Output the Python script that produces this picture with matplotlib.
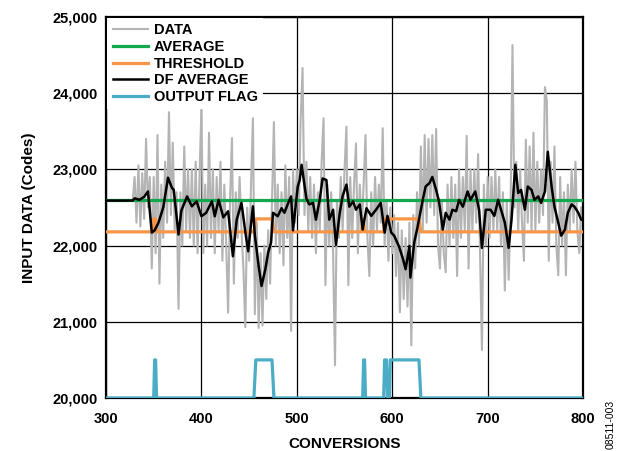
import numpy as np
import matplotlib.pyplot as plt
from matplotlib.ticker import FuncFormatter

plt.rcParams['font.family'] = ['Liberation Sans', 'DejaVu Sans']
plt.rcParams['font.weight'] = 'bold'

# raw ADC samples, one value every 2 conversions (300..798)
data_x = np.arange(300, 800, 2)
data_y = [
    22590, 22590, 22590, 22590, 22590, 22590, 22590, 22590, 22590, 22590,
    22590, 22590, 22590, 22590, 22590,
    22900, 22300, 23050, 22250, 22950, 22350, 23400, 22500, 22900, 21700,
    22900, 21900, 23450, 21500, 22800, 22100, 23100, 22300, 23750, 22400,
    23350, 22200, 22700, 21170, 22700, 22000, 23300, 22200, 23000, 22100,
    23000, 22000, 23100, 21900, 22900, 23780, 21900, 22800, 22000, 23480,
    22100, 23000, 21900, 22900, 22200, 23100, 21800, 22800, 22000, 21120,
    22600, 23410, 21500, 22700, 22100, 22900, 22200, 21700, 20930, 22500,
    21800, 22800, 23670, 21100, 22300, 20920, 21900, 20950, 22000, 21300,
    22200, 21500, 22600, 23620, 22000, 22800, 21900, 22700, 21740, 23050,
    22100, 22900, 20880, 23000, 22300, 23000, 22400, 23650, 24330, 22400,
    23100, 22200, 22900, 22100, 22800, 21900, 22700, 22200, 23100, 23670,
    21480, 22800, 22000, 22700, 21900, 20430, 22600, 22100, 22900, 22200,
    23000, 23560, 21480, 22900, 22100, 22800, 23340, 21900, 22800, 22200,
    22800, 23450, 22100, 21600, 22700, 22000, 22900, 22200, 22800, 22300,
    23540, 22000, 22600, 21800, 22500, 21900, 22400, 21600, 22300, 21125,
    22200, 21300, 22100, 21200, 22300, 20690, 22400, 21700, 22700, 22000,
    23300, 22200, 23450, 22300, 23400, 22500, 23450, 22400, 23530, 22000,
    21700, 22600, 21900, 21650, 22800, 22000, 22900, 22100, 22800, 21600,
    23000, 22100, 22900, 22200, 23440, 21700, 23000, 22200, 23000, 22300,
    23200, 21900, 20630, 22800, 22000, 22900, 22100, 22900, 22200, 23000,
    22200, 22900, 22000, 22700, 21410, 22600, 21550, 22500, 24630, 22500,
    23100, 22200, 23000, 22300, 21800, 23390, 22300, 23300, 22200, 23480,
    22200, 23100, 22300, 23000, 22400, 24080, 23900, 21800, 23100, 22300,
    23300, 22000, 21610, 22900, 22000, 22700, 21610, 22800, 22200, 23000,
    22300, 23100, 22200, 21900, 22500,
]

avg_x = [300, 800]
avg_y = [22600, 22600]

# threshold rises while the flag is set
thr_x = [300, 349, 350, 352, 353, 455, 457, 474, 476, 568, 569, 570, 571,
         591, 592, 628, 630, 800]
thr_y = [22180, 22180, 22350, 22350, 22180, 22180, 22350, 22350, 22180,
         22180, 22350, 22350, 22180, 22180, 22350, 22350, 22180, 22180]

df_x = [300, 328, 330, 335, 340, 344, 348, 351, 355, 360, 365, 369, 371,
        376, 379, 385, 390, 395, 400, 405, 411, 414, 418, 423, 428, 433,
        437, 442, 446, 449, 454, 456, 460, 463, 467, 470, 473, 475, 480,
        484, 487, 491, 494, 496, 501, 503, 505, 507, 510, 513, 517, 520,
        524, 527, 531, 534, 538, 541, 545, 548, 552, 555, 559, 562, 566,
        569, 573, 578, 583, 588, 592, 595, 599, 602, 607, 611, 614, 618,
        619, 623, 626, 632, 635, 639, 642, 646, 649, 653, 656, 660, 663,
        667, 670, 674, 679, 682, 687, 691, 694, 698, 703, 707, 711, 715,
        718, 722, 725, 729, 732, 735, 739, 742, 746, 749, 753, 756, 760,
        763, 767, 770, 774, 777, 781, 784, 788, 791, 795, 798, 800]
df_y = [22590, 22590, 22620, 22600, 22640, 22710, 22170, 22200, 22300,
        22500, 22890, 22760, 22730, 22145, 22460, 22645, 22515, 22580,
        22385, 22430, 22580, 22385, 22600, 22370, 22450, 21860, 22340,
        22560, 22180, 21925, 22515, 22135, 21730, 21470, 21690, 21910,
        22040, 22430, 22385, 22490, 22430, 22560, 22645, 22200, 22775,
        22860, 23060, 22880, 22620, 22540, 22560, 22340, 22600, 22880,
        22860, 22340, 22470, 22010, 22430, 22650, 22800, 22510, 22580,
        22470, 22540, 22210, 22490, 22390, 22470, 22560, 22170, 22390,
        22170, 22130, 21990, 21835, 21690, 21995, 21580, 22040, 22210,
        22600, 22775, 22820, 22900, 22730, 22580, 22210, 22430, 22340,
        22470, 22450, 22600, 22510, 22710, 22600, 22710, 22470, 21970,
        22470, 22470, 22390, 22600, 22430, 22300, 21970, 22340, 23060,
        22690, 22730, 22470, 22775, 22730, 22600, 22645, 22560, 22710,
        23230, 22775, 22510, 22300, 22130, 22210, 22430, 22540, 22510,
        22430, 22340, 22340]

flag_x = [300, 350, 351, 352, 353, 455, 457, 474, 476, 569, 570, 571, 572,
          591, 592, 594, 595, 597, 598, 628, 630, 800]
flag_y = [20000, 20000, 20500, 20500, 20000, 20000, 20500, 20500, 20000,
          20000, 20500, 20500, 20000, 20000, 20500, 20500, 20000, 20000,
          20500, 20500, 20000, 20000]

fig = plt.figure(figsize=(6.29, 4.51), dpi=100)
ax = fig.add_axes([0.1685, 0.1175, 0.7585, 0.845])

ax.plot(data_x, data_y, color='#b4b4b4', lw=1.5, label='DATA', zorder=2)
ax.plot(avg_x, avg_y, color='#12a84e', lw=2.3, label='AVERAGE', zorder=3)
ax.plot(thr_x, thr_y, color='#f79646', lw=2.3, label='THRESHOLD', zorder=3)
ax.plot(df_x, df_y, color='black', lw=1.8, label='DF AVERAGE', zorder=4)
ax.plot(flag_x, flag_y, color='#4bacc6', lw=2.3, label='OUTPUT FLAG', zorder=5)

ax.set_xlim(300, 800)
ax.set_ylim(20000, 25000)
ax.set_xticks(range(300, 801, 100))
ax.set_yticks(range(20000, 25001, 1000))
ax.yaxis.set_major_formatter(FuncFormatter(lambda v, p: f'{int(v):,}'))
ax.tick_params(axis='y', length=0, labelsize=10.5, pad=6)
ax.tick_params(axis='x', length=0, labelsize=10.5, pad=10)
ax.grid(color='black', lw=0.9, zorder=0)
for s in ax.spines.values():
    s.set_linewidth(1.6)

ax.set_xlabel('CONVERSIONS', fontsize=11, fontweight='bold', labelpad=8)
ax.set_ylabel('INPUT DATA (Codes)', fontsize=11, fontweight='bold', labelpad=12)

leg = ax.legend(loc='upper left', fontsize=10.5, frameon=True, framealpha=1,
                edgecolor='none', fancybox=False, handlelength=2.4,
                labelspacing=0.18, borderpad=0.35, borderaxespad=0.1,
                handletextpad=0.45)
leg.get_frame().set_facecolor('white')
leg.set_zorder(6)

fig.text(0.97, 0.058, '08511-003', rotation=90, fontsize=7.5, fontweight='normal',
         ha='center', va='center')

fig.savefig('out.png', dpi=100)
